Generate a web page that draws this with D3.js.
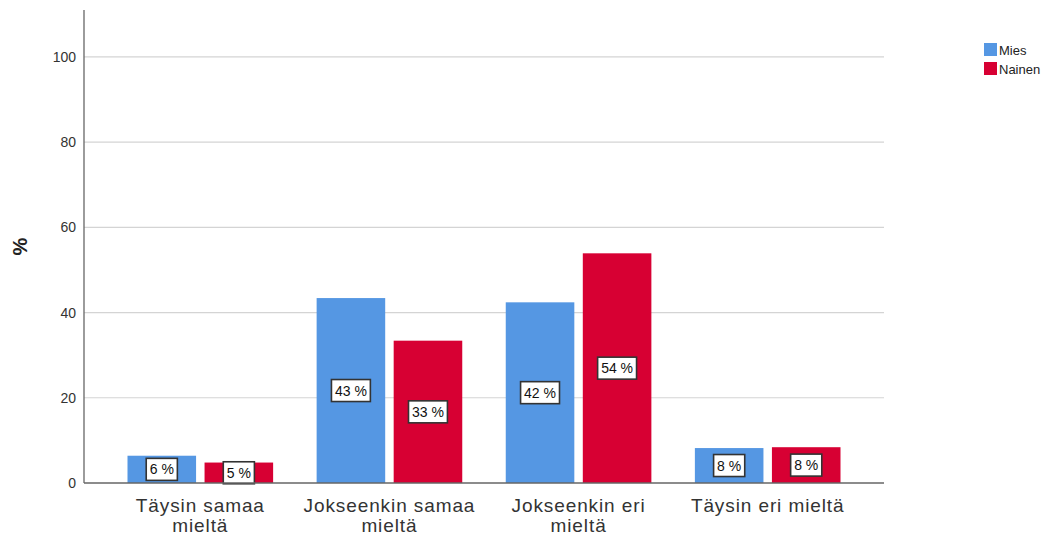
<!DOCTYPE html>
<html>
<head>
<meta charset="utf-8">
<script src="https://cdn.jsdelivr.net/npm/d3@7"></script>
<style>
  body { margin: 0; background: #fff; }
  text { font-family: "Liberation Sans", Arial, sans-serif; }
</style>
</head>
<body>
<div id="chart"></div>
<script>
var categories = ["Täysin samaa mieltä", "Jokseenkin samaa mieltä", "Jokseenkin eri mieltä", "Täysin eri mieltä"];
var seriesNames = ["Mies", "Nainen"];
var mies = [6.4, 43.4, 42.4, 8.2];
var nainen = [4.8, 33.4, 53.9, 8.4];
var miesLabels = ["6 %", "43 %", "42 %", "8 %"];
var nainenLabels = ["5 %", "33 %", "54 %", "8 %"];
var yTicks = [0, 20, 40, 60, 80, 100];
var colors = ["#5597e3", "#d70033"];

var width = 1051, height = 536;
var plotLeft = 84, plotRight = 884, plotTop = 10, plotBottom = 483;

var svg = d3.select("#chart").append("svg")
    .attr("width", width)
    .attr("height", height);

var x = d3.scaleBand().domain(categories).range([plotLeft, plotRight])
    .paddingInner(0.23).paddingOuter(0.23);
var xs = d3.scaleBand().domain(seriesNames).range([0, x.bandwidth()])
    .paddingInner(0.11);
var y = d3.scaleLinear().domain([0, 111]).range([plotBottom, plotTop]);

// gridlines
svg.append("g")
    .selectAll("line")
    .data(yTicks.filter(function(d) { return d > 0; }))
    .enter().append("line")
    .attr("x1", plotLeft).attr("x2", plotRight)
    .attr("y1", function(d) { return y(d); })
    .attr("y2", function(d) { return y(d); })
    .style("stroke", "#d4d4d4")
    .style("stroke-width", "1.2px");

// y axis
var yAxis = svg.append("g")
    .attr("transform", "translate(" + plotLeft + ",0)")
    .call(d3.axisLeft(y).tickValues(yTicks).tickSize(0).tickPadding(8));
yAxis.select(".domain").remove();
yAxis.selectAll("text")
    .style("font-size", "14px")
    .style("fill", "#333");

svg.append("line")
    .attr("x1", plotLeft).attr("x2", plotLeft)
    .attr("y1", plotTop).attr("y2", plotBottom)
    .style("stroke", "#666").style("stroke-width", "1.3px");

svg.append("text")
    .attr("transform", "translate(20," + ((plotTop + plotBottom) / 2) + ") rotate(-90)")
    .attr("dy", "0.36em")
    .style("text-anchor", "middle")
    .style("font-size", "20px")
    .style("font-weight", "bold")
    .style("fill", "#222")
    .text("%");

// bars
var rows = categories.map(function(c, i) {
    return [
        { cat: c, s: "Mies", v: mies[i], label: miesLabels[i], color: colors[0] },
        { cat: c, s: "Nainen", v: nainen[i], label: nainenLabels[i], color: colors[1] }
    ];
});

var groups = svg.append("g")
    .selectAll("g")
    .data(rows)
    .enter().append("g")
    .attr("transform", function(d) { return "translate(" + x(d[0].cat) + ",0)"; });

var bar = groups.selectAll("g")
    .data(function(d) { return d; })
    .enter().append("g");

bar.append("rect")
    .attr("x", function(d) { return xs(d.s); })
    .attr("width", xs.bandwidth())
    .attr("y", function(d) { return y(d.v); })
    .attr("height", function(d) { return plotBottom - y(d.v); })
    .style("fill", function(d) { return d.color; });

// x axis line
svg.append("line")
    .attr("x1", plotLeft).attr("x2", plotRight)
    .attr("y1", plotBottom).attr("y2", plotBottom)
    .style("stroke", "#666").style("stroke-width", "1.3px");

// value labels
var lab = bar.append("g")
    .attr("transform", function(d) {
        return "translate(" + (xs(d.s) + xs.bandwidth() / 2) + "," + ((y(d.v) + plotBottom) / 2) + ")";
    });
lab.append("text")
    .attr("text-anchor", "middle")
    .attr("dy", "0.36em")
    .style("font-size", "14px")
    .style("fill", "#111")
    .text(function(d) { return d.label; });
lab.each(function() {
    var g = d3.select(this);
    var w = g.select("text").node().getComputedTextLength() + 7;
    g.insert("rect", "text")
        .attr("x", -w / 2).attr("y", -11)
        .attr("width", w).attr("height", 22)
        .style("fill", "#fff")
        .style("stroke", "#333")
        .style("stroke-width", "1.6px");
});

// category labels
svg.append("g")
    .selectAll("text")
    .data(categories)
    .enter().append("text")
    .attr("x", function(d) { return x(d) + x.bandwidth() / 2; })
    .attr("y", 512)
    .attr("text-anchor", "middle")
    .style("font-size", "19px")
    .style("letter-spacing", "0.9px")
    .style("fill", "#333")
    .each(function(d) {
        var t = d3.select(this);
        var words = d.split(" ");
        var line = [];
        var tspan = t.append("tspan").attr("x", t.attr("x")).attr("dy", 0);
        words.forEach(function(w) {
            line.push(w);
            tspan.text(line.join(" "));
            if (tspan.node().getComputedTextLength() > 185 && line.length > 1) {
                line.pop();
                tspan.text(line.join(" "));
                line = [w];
                tspan = t.append("tspan").attr("x", t.attr("x")).attr("dy", "20px").text(w);
            }
        });
    });

// legend
var legend = svg.append("g")
    .selectAll("g")
    .data(seriesNames)
    .enter().append("g")
    .attr("transform", function(d, i) { return "translate(984," + (43 + i * 19) + ")"; });
legend.append("rect")
    .attr("width", 13).attr("height", 13)
    .style("fill", function(d, i) { return colors[i]; });
legend.append("text")
    .attr("x", 15).attr("y", 7)
    .attr("dy", "0.36em")
    .style("font-size", "13px")
    .style("fill", "#222")
    .text(function(d) { return d; });
</script>
</body>
</html>
